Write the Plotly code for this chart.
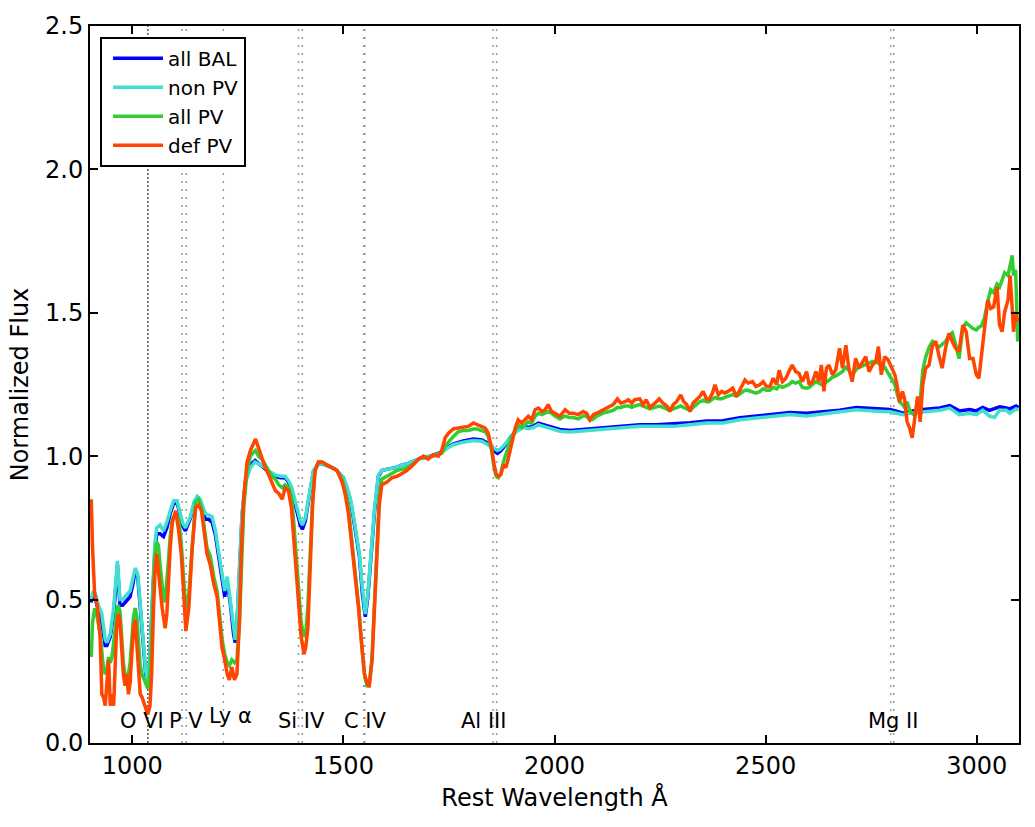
import plotly.graph_objects as go

# ---------------- data ----------------
# Blue / cyan composites (all BAL, non PV)
wl_bal = [902, 908, 913, 920, 928, 936, 940, 948, 956, 961, 965, 971, 977, 983, 989, 995,
          1001, 1007, 1013, 1019, 1027, 1032, 1037, 1042, 1046, 1050, 1054, 1058, 1066, 1074,
          1082, 1090, 1098, 1106, 1114, 1120, 1126, 1132, 1138, 1146, 1154, 1161, 1167, 1173,
          1181, 1189, 1197, 1205, 1213, 1219, 1225, 1232, 1240, 1244, 1248, 1254, 1260, 1268,
          1280, 1291, 1303, 1315, 1327, 1339, 1351, 1362, 1370, 1378, 1384, 1390, 1398, 1403,
          1410, 1418, 1424, 1429, 1441, 1457, 1481, 1500, 1508, 1516, 1522, 1528, 1538, 1545,
          1552, 1558, 1566, 1574, 1583, 1591, 1605, 1623, 1640, 1654, 1670, 1682, 1705, 1729,
          1745, 1761, 1784, 1808, 1828, 1843, 1855, 1865, 1872, 1879, 1895, 1911, 1926, 1938,
          1950, 1962, 1974, 1989, 2013, 2037, 2060, 2084, 2108, 2123, 2163, 2202, 2242, 2281,
          2321, 2360, 2399, 2439, 2478, 2518, 2557, 2597, 2636, 2675, 2715, 2755, 2794, 2810,
          2825, 2841, 2872, 2912, 2936, 2959, 2983, 2999, 3014, 3030, 3042, 3054, 3070, 3078,
          3093, 3099]
flux_non_pv = [.50, .53, .52, .48, .45, .36, .35, .38, .47, .56, .635, .50, .50, .51, .52, .53,
               .57, .61, .59, .47, .31, .25, .21, .31, .45, .60, .70, .75, .76, .74,
               .77, .81, .845, .845, .80, .765, .75, .77, .79, .84, .86, .85, .825, .80,
               .795, .79, .74, .66, .59, .53, .58, .50, .39, .36, .42, .60, .80, .91,
               .96, .98, .97, .96, .945, .935, .93, .93, .915, .89, .855, .82, .775, .76,
               .785, .855, .91, .95, .975, .97, .955, .925, .895, .855, .81, .76, .66, .54,
               .45, .52, .68, .82, .935, .95, .955, .96, .97, .975, .985, .992, 1.0, 1.01,
               1.027, 1.04, 1.049, 1.055, 1.052, 1.04, 1.027, 1.02, 1.025, 1.035, 1.064, 1.087, 1.10, 1.096,
               1.10, 1.11, 1.104, 1.098, 1.087, 1.084, 1.087, 1.089, 1.092, 1.093, 1.098, 1.104, 1.104, 1.104,
               1.11, 1.116, 1.116, 1.127, 1.133, 1.139, 1.145, 1.14, 1.147, 1.152, 1.162, 1.158, 1.155, 1.15,
               1.145, 1.15, 1.155, 1.16, 1.168, 1.145, 1.15, 1.145, 1.16, 1.14, 1.135, 1.16, 1.16, 1.15,
               1.165, 1.16]
flux_all_bal = [.49, .52, .50, .46, .42, .34, .34, .37, .45, .54, .62, .48, .48, .49, .50, .51,
                .55, .60, .58, .46, .30, .24, .20, .30, .44, .58, .68, .73, .73, .72,
                .75, .80, .835, .84, .79, .755, .74, .76, .785, .83, .855, .845, .815, .78,
                .78, .77, .725, .645, .58, .51, .56, .49, .38, .35, .41, .59, .79, .91,
                .97, .985, .97, .955, .94, .93, .925, .925, .91, .88, .845, .81, .76, .745,
                .775, .85, .905, .945, .975, .97, .955, .925, .89, .85, .80, .75, .65, .52,
                .44, .51, .67, .81, .93, .95, .955, .96, .97, .975, .985, .992, 1.0, 1.012,
                1.03, 1.043, 1.053, 1.06, 1.057, 1.045, 1.02, 1.01, 1.018, 1.03, 1.065, 1.09, 1.105, 1.10,
                1.105, 1.115, 1.11, 1.104, 1.093, 1.09, 1.093, 1.095, 1.098, 1.10, 1.105, 1.11, 1.11, 1.112,
                1.117, 1.123, 1.124, 1.134, 1.14, 1.146, 1.152, 1.15, 1.155, 1.16, 1.17, 1.166, 1.163, 1.157,
                1.15, 1.156, 1.163, 1.168, 1.176, 1.158, 1.163, 1.158, 1.17, 1.16, 1.165, 1.172, 1.168, 1.165,
                1.175, 1.17]

# Green / orange composites (all PV, def PV)
wl_pv = [903, 906, 911, 917, 924, 928, 932, 936, 940, 944, 948, 952, 956, 960, 963, 967,
         971, 975, 979, 983, 987, 991, 995, 999, 1003, 1007, 1011, 1015, 1019, 1023, 1031, 1037,
         1042, 1046, 1050, 1054, 1058, 1062, 1066, 1071, 1078, 1082, 1086, 1090, 1095, 1103,
         1110, 1116, 1122, 1127, 1134, 1142, 1150, 1157, 1164, 1169, 1177, 1185, 1193, 1201,
         1206, 1213, 1219, 1225, 1230, 1236, 1242, 1248, 1254, 1258, 1264, 1272, 1280, 1285,
         1292, 1299, 1307, 1315, 1323, 1331, 1339, 1347, 1355, 1362, 1370, 1377, 1382, 1388,
         1394, 1400, 1407, 1411, 1416, 1422, 1427, 1433, 1441, 1449, 1461, 1473, 1485, 1497,
         1504, 1512, 1520, 1528, 1536, 1544, 1550, 1556, 1561, 1568, 1574, 1579, 1585, 1591,
         1603, 1615, 1627, 1639, 1650, 1662, 1678, 1690, 1701, 1713, 1725, 1733, 1741, 1749,
         1761, 1772, 1784, 1796, 1808, 1816, 1824, 1836, 1843, 1851, 1857, 1862, 1867, 1873,
         1879, 1885, 1891, 1899, 1907, 1914, 1922, 1930, 1938, 1946, 1954, 1962, 1970, 1978,
         1985, 1993, 2001, 2013, 2025, 2035, 2045, 2056, 2068, 2076, 2084, 2092, 2100, 2108,
         2115, 2127, 2139, 2149, 2157, 2167, 2175, 2183, 2190, 2202, 2210, 2217, 2226, 2238,
         2248, 2257, 2267, 2273, 2281, 2289, 2299, 2306, 2313, 2321, 2328, 2336, 2344, 2352,
         2360, 2366, 2374, 2380, 2388, 2396, 2403, 2411, 2422, 2431, 2441, 2451, 2458, 2469,
         2477, 2486, 2494, 2502, 2510, 2518, 2526, 2532, 2540, 2548, 2555, 2563, 2571, 2579,
         2587, 2597, 2603, 2611, 2619, 2626, 2632, 2638, 2644, 2650, 2658, 2666, 2675, 2682,
         2690, 2697, 2705, 2713, 2721, 2729, 2737, 2745, 2753, 2761, 2767, 2774, 2782, 2790,
         2798, 2806, 2811, 2817, 2824, 2829, 2835, 2841, 2847, 2854, 2860, 2866, 2872, 2879,
         2887, 2895, 2903, 2910, 2918, 2926, 2934, 2942, 2950, 2958, 2967, 2975, 2983, 2991,
         2999, 3005, 3011, 3018, 3026, 3033, 3040, 3048, 3054, 3060, 3066, 3074, 3079, 3084,
         3087, 3092, 3097]
flux_def_pv = [.85, .68, .52, .48, .37, .17, .16, .13, .21, .29, .13, .17, .13, .26, .40, .45,
               .43, .33, .24, .20, .24, .17, .21, .31, .40, .43, .33, .24, .17, .16, .13, .10,
               .13, .24, .45, .60, .66, .61, .54, .47, .40, .45, .57, .68, .77, .81,
               .74, .66, .52, .39, .47, .68, .82, .83, .81, .75, .66, .62, .555, .51,
               .43, .33, .29, .24, .22, .265, .22, .24, .43, .66, .855, .98, 1.02, 1.04,
               1.06, 1.03, .995, .96, .935, .91, .88, .87, .85, .89, .88, .82, .72, .60,
               .47, .37, .31, .335, .40, .60, .83, .95, .98, .98, .97, .96, .95, .91,
               .87, .80, .69, .59, .47, .335, .24, .21, .195, .29, .47, .68, .83, .90,
               .91, .925, .93, .94, .95, .965, .99, 1.0, .99, 1.005, 1.0, 1.02, 1.064, 1.08,
               1.096, 1.098, 1.10, 1.104, 1.116, 1.11, 1.104, 1.098, 1.08, 1.03, .97, .936, .93, .936,
               .97, .96, .994, 1.05, 1.098, 1.127, 1.116, 1.127, 1.139, 1.127, 1.162, 1.168, 1.156, 1.162,
               1.18, 1.156, 1.15, 1.139, 1.162, 1.15, 1.15, 1.145, 1.156, 1.15, 1.127, 1.145, 1.15, 1.156,
               1.162, 1.168, 1.18, 1.20, 1.185, 1.19, 1.197, 1.185, 1.197, 1.20, 1.18, 1.197, 1.17, 1.185,
               1.20, 1.185, 1.174, 1.156, 1.18, 1.19, 1.214, 1.19, 1.18, 1.156, 1.185, 1.197, 1.208, 1.226,
               1.20, 1.197, 1.22, 1.249, 1.214, 1.226, 1.22, 1.226, 1.237, 1.208, 1.237, 1.266, 1.255, 1.26,
               1.243, 1.249, 1.26, 1.243, 1.243, 1.272, 1.249, 1.30, 1.26, 1.272, 1.295, 1.318, 1.295, 1.289,
               1.26, 1.295, 1.249, 1.26, 1.295, 1.26, 1.318, 1.226, 1.307, 1.318, 1.284, 1.30, 1.376, 1.307,
               1.387, 1.307, 1.26, 1.341, 1.307, 1.33, 1.347, 1.295, 1.318, 1.33, 1.382, 1.284, 1.347, 1.336,
               1.307, 1.284, 1.249, 1.19, 1.226, 1.20, 1.12, 1.098, 1.064, 1.145, 1.208, 1.12, 1.249, 1.307,
               1.318, 1.387, 1.40, 1.353, 1.307, 1.376, 1.428, 1.40, 1.376, 1.365, 1.457, 1.434, 1.341, 1.341,
               1.284, 1.272, 1.353, 1.427, 1.544, 1.515, 1.521, 1.59, 1.457, 1.434, 1.503, 1.544, 1.63, 1.515,
               1.434, 1.503, 1.469]
flux_all_pv = [.30, .42, .47, .44, .38, .30, .26, .24, .26, .30, .28, .30, .34, .40, .46, .48,
               .46, .36, .28, .24, .23, .24, .28, .36, .44, .47, .44, .35, .27, .24, .21, .19,
               .25, .36, .55, .66, .70, .69, .62, .55, .49, .55, .64, .72, .78, .80,
               .78, .70, .56, .46, .52, .70, .84, .85, .82, .77, .68, .65, .58, .53,
               .45, .36, .31, .28, .27, .29, .28, .29, .42, .62, .82, .95, 1.0, 1.01,
               1.02, 1.0, .99, .97, .95, .93, .92, .90, .89, .90, .89, .86, .78, .66,
               .52, .42, .37, .38, .48, .66, .84, .95, .98, .98, .97, .96, .95, .92,
               .88, .82, .71, .60, .48, .33, .24, .20, .20, .30, .50, .72, .86, .92,
               .93, .94, .95, .955, .96, .97, .99, 1.0, .995, 1.0, 1.005, 1.01, 1.035, 1.05,
               1.07, 1.085, 1.09, 1.09, 1.095, 1.095, 1.09, 1.085, 1.07, 1.02, .96, .93, .925, .94,
               .98, 1.01, 1.04, 1.07, 1.09, 1.11, 1.10, 1.11, 1.12, 1.115, 1.14, 1.15, 1.145, 1.15,
               1.155, 1.15, 1.14, 1.13, 1.14, 1.135, 1.135, 1.13, 1.14, 1.14, 1.125, 1.13, 1.14, 1.145,
               1.15, 1.155, 1.16, 1.17, 1.17, 1.175, 1.175, 1.17, 1.175, 1.18, 1.175, 1.17, 1.165, 1.17,
               1.175, 1.17, 1.165, 1.16, 1.165, 1.17, 1.175, 1.17, 1.165, 1.16, 1.17, 1.18, 1.19, 1.195,
               1.19, 1.19, 1.20, 1.205, 1.20, 1.20, 1.205, 1.21, 1.215, 1.21, 1.22, 1.23, 1.23, 1.225,
               1.22, 1.225, 1.235, 1.23, 1.23, 1.24, 1.235, 1.245, 1.24, 1.245, 1.25, 1.26, 1.255, 1.26,
               1.24, 1.237, 1.24, 1.25, 1.26, 1.255, 1.25, 1.25, 1.26, 1.265, 1.275, 1.28, 1.29, 1.295,
               1.31, 1.30, 1.28, 1.30, 1.31, 1.315, 1.32, 1.325, 1.33, 1.33, 1.325, 1.32, 1.31, 1.29,
               1.27, 1.25, 1.22, 1.19, 1.18, 1.17, 1.19, 1.16, 1.15, 1.14, 1.20, 1.19, 1.30, 1.345,
               1.38, 1.40, 1.39, 1.38, 1.39, 1.40, 1.42, 1.43, 1.39, 1.34, 1.45, 1.465, 1.455, 1.445,
               1.44, 1.45, 1.455, 1.48, 1.54, 1.58, 1.57, 1.60, 1.59, 1.62, 1.64, 1.63, 1.66, 1.70,
               1.63, 1.65, 1.40]

series_names = ["all BAL", "non PV", "all PV", "def PV"]
series_colors = ["#0000ff", "#40e0d0", "#32cd32", "#ff4500"]

# absorption-line markers
line_wl = [1037.0, 1118.0, 1128.0, 1215.67, 1393.76, 1402.77, 1548.2, 1550.77,
           1854.72, 1862.79, 2796.35, 2803.53]
label_text = ["O VI", "P V", "Ly α", "Si IV", "C IV", "Al III", "Mg II"]
label_wl = [1022, 1127, 1232, 1401, 1553, 1832, 2802]
label_flux = [0.076, 0.076, 0.094, 0.076, 0.076, 0.076, 0.076]

# ---------------- figure ----------------
fig = go.Figure()
series = [(wl_bal, flux_all_bal), (wl_bal, flux_non_pv), (wl_pv, flux_all_pv), (wl_pv, flux_def_pv)]
for i, ((xs, ys), name, col) in enumerate(zip(series, series_names, series_colors)):
    fig.add_trace(go.Scatter(x=xs, y=ys, mode="lines", name=name,
                             line=dict(color=col, width=3.5),
                             legendgroup=f"g{i}"))

for w in line_wl:
    is_ovi = w < 1100
    fig.add_shape(type="line", xref="x", yref="paper", x0=w, x1=w, y0=0, y1=1,
                  line=dict(color="#555555" if is_ovi else "#999999", width=1.5,
                            dash="2px,2px" if is_ovi else "2px,6px"),
                  layer="below")

for t, xw, yf in zip(label_text, label_wl, label_flux):
    fig.add_annotation(x=xw, y=yf, xref="x", yref="y", text=t, showarrow=False,
                       font=dict(size=21, color="black"), xanchor="center", yanchor="middle")

axis_common = dict(showline=True, linecolor="black", linewidth=2, mirror="ticks",
                   ticks="inside", ticklen=8, tickwidth=1.5, tickcolor="black",
                   showgrid=False, zeroline=False,
                   tickfont=dict(size=24, color="black"))
fig.update_xaxes(range=[900, 3100], tickvals=[1000, 1500, 2000, 2500, 3000],
                 title=dict(text="Rest Wavelength Å", font=dict(size=24, color="black"), standoff=10),
                 **axis_common)
fig.update_yaxes(range=[0, 2.5], tickvals=[0, 0.5, 1.0, 1.5, 2.0, 2.5], tickformat=".1f",
                 title=dict(text="Normalized Flux", font=dict(size=24, color="black"), standoff=10),
                 **axis_common)

fig.update_layout(
    width=1035, height=827,
    margin=dict(l=90, r=16, t=23, b=84),
    plot_bgcolor="white", paper_bgcolor="white",
    font=dict(family="DejaVu Sans", color="black"),
    showlegend=True,
    legend=dict(x=0.0108, y=0.985, xanchor="left", yanchor="top",
                bgcolor="white", bordercolor="black", borderwidth=2,
                font=dict(size=20, color="black"), tracegroupgap=0, itemwidth=50,
                indentation=6),
)

fig.write_html("out.html")
